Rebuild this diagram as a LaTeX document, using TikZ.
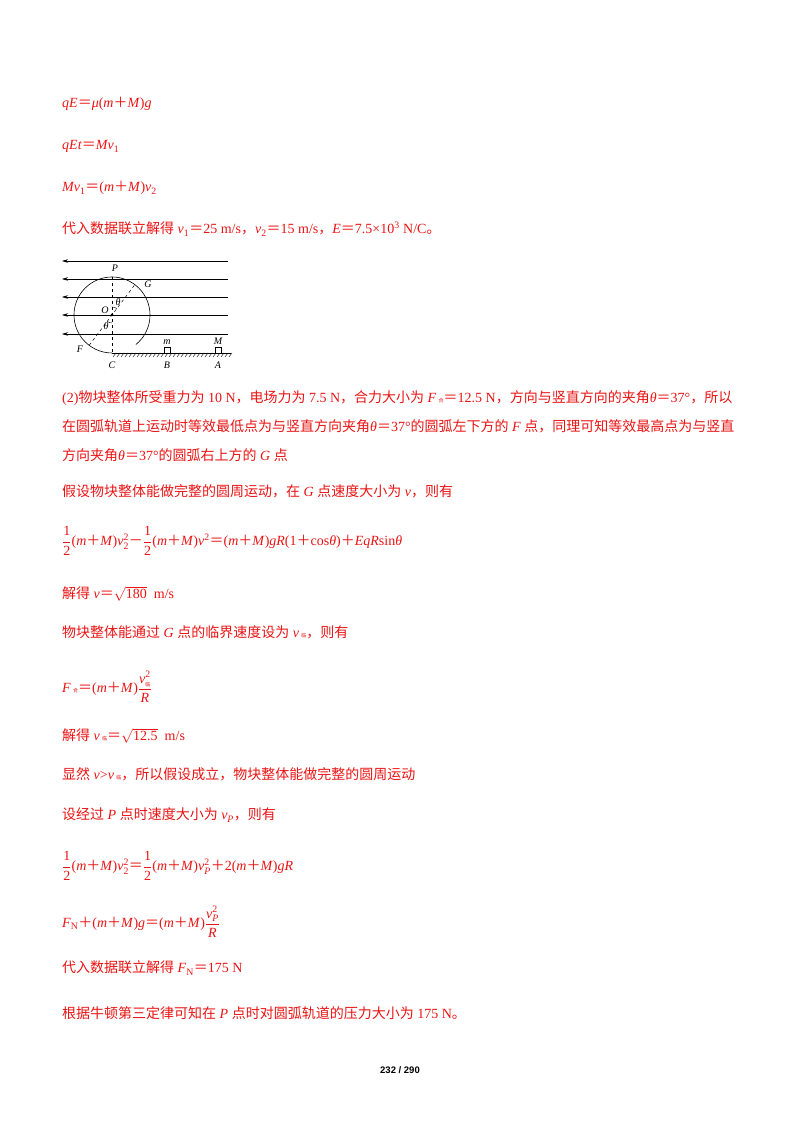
\documentclass[tikz,border=0pt]{standalone}
\usepackage{amsmath}
\usepackage{fontspec}
\setmainfont{Liberation Serif}
\newfontfamily\cjk{Noto Sans CJK SC}
\newfontfamily\pgnum{Liberation Sans}
\newcommand{\zh}[1]{{\cjk #1}}
\newcommand{\iv}[1]{\textit{#1}}
\newcommand{\EQ}{{\cjk ＝}}
\newcommand{\PL}{{\cjk ＋}}
\newcommand{\MI}{{\cjk －}}
\newcommand{\hf}{$\dfrac{\text{1}}{\text{2}}$}
\definecolor{ans}{RGB}{235,20,20}
\usetikzlibrary{arrows.meta,calc}
\begin{document}
\begin{tikzpicture}[x=1pt,y=1pt,
 tl/.style={anchor=base west,inner sep=0,font=\fontsize{14}{16}\selectfont,text=ans},
 fl/.style={anchor=west,inner sep=0,font=\fontsize{14}{16}\selectfont,text=ans},
 lb/.style={font=\fontsize{10}{11}\selectfont\itshape,inner sep=0},
 fieldline/.style={line width=0.6pt,-{Stealth[length=6pt,width=3.5pt]}}]
\useasboundingbox (0,0) rectangle (800,1132);
\fill[white] (0,0) rectangle (800,1132);
% text
\node[tl] (t1) at (62,1024) {\iv{qE}\EQ\iv{μ}(\iv{m}\PL\iv{M})\iv{g}};
\node[tl] (t2) at (62,982) {\iv{qEt}\EQ\iv{Mv}\textsubscript{1}};
\node[tl] (t3) at (62,940) {\iv{Mv}\textsubscript{1}\EQ(\iv{m}\PL\iv{M})\iv{v}\textsubscript{2}};
\node[tl] (t4) at (62,898) {\zh{代入数据联立解得} \iv{v}\textsubscript{1}\EQ25 m/s\zh{，}\iv{v}\textsubscript{2}\EQ15 m/s\zh{，}\iv{E}\EQ7.5×10\textsuperscript{3} N/C\zh{。}};
\node[tl] (t5) at (62,729) {(2)\zh{物块整体所受重力为} 10 N\zh{，电场力为} 7.5 N\zh{，合力大小为} \iv{F}\,{\tiny\zh{合}}\EQ12.5 N\zh{，方向与竖直方向的夹角}\iv{θ}\EQ37°\zh{，所以}};
\node[tl] (t6) at (62,700) {\zh{在圆弧轨道上运动时等效最低点为与竖直方向夹角}\iv{θ}\EQ37°\zh{的圆弧左下方的} \iv{F} \zh{点，同理可知等效最高点为与竖直}};
\node[tl] (t7) at (62,671) {\zh{方向夹角}\iv{θ}\EQ37°\zh{的圆弧右上方的} \iv{G} \zh{点}};
\node[tl] (t8) at (62,635) {\zh{假设物块整体能做完整的圆周运动，在} \iv{G} \zh{点速度大小为} \iv{v}\zh{，则有}};
\node[fl] (t9) at (62,591) {\hf(\iv{m}\PL\iv{M})\iv{v}$^{\text{2}}_{\text{2}}$\MI\hf(\iv{m}\PL\iv{M})\iv{v}\textsuperscript{2}\EQ(\iv{m}\PL\iv{M})\iv{gR}(1\PL cos\iv{θ})\PL\iv{EqR}sin\iv{θ}};
\node[tl] (t10) at (62,533) {\zh{解得} \iv{v}\EQ$\sqrt{\text{180}}$\ \ m/s};
\node[tl] (t11) at (62,494) {\zh{物块整体能通过} \iv{G} \zh{点的临界速度设为} \iv{v}\,{\tiny\zh{临}}\zh{，则有}};
\node[fl] (t12) at (62,445) {\iv{F}\,{\tiny\zh{合}}\EQ(\iv{m}\PL\iv{M})$\dfrac{\textit{v}^{\text{2}}_{\text{\tiny\cjk 临}}}{\textit{R}}$};
\node[tl] (t13) at (62,391) {\zh{解得} \iv{v}\,{\tiny\zh{临}}\EQ$\sqrt{\text{12.5}}$\ \ m/s};
\node[tl] (t14) at (62,352) {\zh{显然} \iv{v}>\iv{v}\,{\tiny\zh{临}}\zh{，所以假设成立，物块整体能做完整的圆周运动}};
\node[tl] (t15) at (62,312) {\zh{设经过} \iv{P} \zh{点时速度大小为} \iv{v\textsubscript{P}}\zh{，则有}};
\node[fl] (t16) at (62,266) {\hf(\iv{m}\PL\iv{M})\iv{v}$^{\text{2}}_{\text{2}}$\EQ\hf(\iv{m}\PL\iv{M})\iv{v}$^{\text{2}}_{\textit{P}}$\PL2(\iv{m}\PL\iv{M})\iv{gR}};
\node[fl] (t17) at (62,210) {\iv{F}\textsubscript{N}\PL(\iv{m}\PL\iv{M})\iv{g}\EQ(\iv{m}\PL\iv{M})$\dfrac{\textit{v}^{\text{2}}_{\textit{P}}}{\textit{R}}$};
\node[tl] (t18) at (62,159) {\zh{代入数据联立解得} \iv{F}\textsubscript{N}\EQ175 N};
\node[tl] (t19) at (62,113) {\zh{根据牛顿第三定律可知在} \iv{P} \zh{点时对圆弧轨道的压力大小为} 175 N\zh{。}};
\node[anchor=base,inner sep=0,font=\pgnum\bfseries\fontsize{9.5}{11}\selectfont] (pg) at (400,58) {232 / 290};
% diagram
\coordinate (O) at (112,817);
\foreach \yy in {871,853,835,817,798}
  \draw[fieldline] (228,\yy) -- (62,\yy);
\draw[line width=0.6pt] (O) ++(-51:38) arc[start angle=-51,end angle=270,radius=38];
\coordinate (C) at (112,779);
\coordinate (A) at (231,779);
\draw[line width=0.6pt] (C) -- (A);
\foreach \xx in {113,117,...,229} \draw[line width=0.4pt] (\xx+3,779) -- (\xx,775);
\draw[dashed,line width=0.5pt] (112,855) -- (C);
\draw[dashed,line width=0.5pt] (O) ++(233:38) coordinate (Fp) -- ++(53:76) coordinate (Gp);
\fill (O) circle (1.5);
\draw[line width=0.4pt] (O) ++(90:8) arc[start angle=90,end angle=53,radius=8];
\draw[line width=0.4pt] (O) ++(270:8) arc[start angle=270,end angle=233,radius=8];
\draw[line width=0.5pt] (164,779) rectangle (170,785);
\draw[line width=0.5pt] (215,779) rectangle (221,785);
\node[lb] (lP) at (115,864) {P};
\node[lb] (lG) at (148,848) {G};
\node[lb] (lO) at (105,822) {O};
\node[lb] (lt1) at (118,830) {θ};
\node[lb] (lt2) at (106,806) {θ};
\node[lb] (lF) at (80,783) {F};
\node[lb] (lC) at (112,767) {C};
\node[lb] (lB) at (167,767) {B};
\node[lb] (lA) at (218,767) {A};
\node[lb] (lm) at (167,790) {m};
\node[lb] (lM) at (218,791) {M};
\end{tikzpicture}
\end{document}
